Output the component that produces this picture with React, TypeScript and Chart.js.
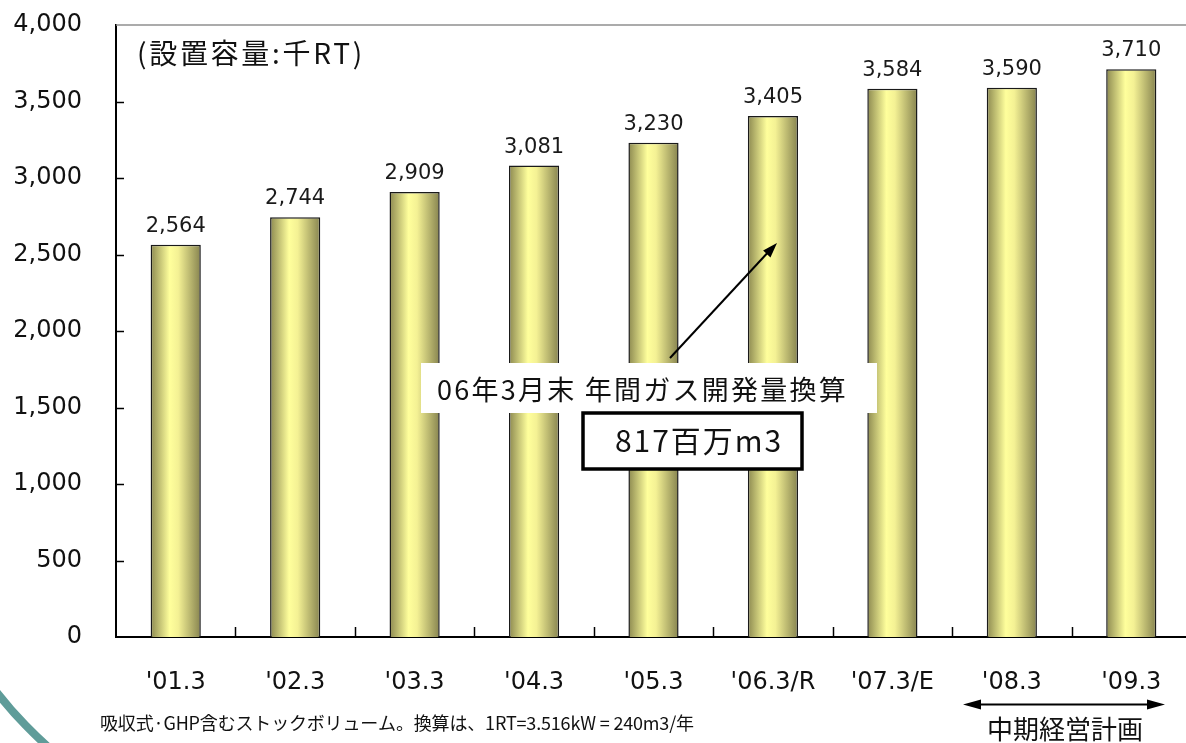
import React, { useEffect, useRef } from "react";
import { Chart, registerables } from "chart.js";

Chart.register(...registerables);

const categories = ["'01.3", "'02.3", "'03.3", "'04.3", "'05.3", "'06.3/R", "'07.3/E", "'08.3", "'09.3"];
const capacity = [2564, 2744, 2909, 3081, 3230, 3405, 3584, 3590, 3710];
const yMin = 0;
const yMax = 4000;
const yStep = 500;

const unitLabel = "(設置容量:千RT)";
const noteLine1 = "06年3月末 年間ガス開発量換算";
const noteLine2 = "817百万m3";
const footNote = "吸収式·GHP含むストックボリューム。換算は、1RT=3.516kW = 240m3/年";
const planLabel = "中期経営計画";

const NUM_FONT = '"DejaVu Sans", sans-serif';
const JP_FONT = '"Noto Sans CJK JP", "Noto Sans", sans-serif';

const W = 1191;
const H = 743;
const BAR_PCT = 0.42;

function fitText(ctx: CanvasRenderingContext2D, text: string, x: number, y: number, target: number) {
  (ctx as any).letterSpacing = "0px";
  const w = ctx.measureText(text).width;
  const n = Array.from(text).length;
  const sp = (target - w) / n;
  (ctx as any).letterSpacing = sp.toFixed(2) + "px";
  ctx.textAlign = "left";
  ctx.fillText(text, x, y);
  (ctx as any).letterSpacing = "0px";
}

function arrowHead(ctx: CanvasRenderingContext2D, x1: number, y1: number, x2: number, y2: number, len: number, half: number) {
  const a = Math.atan2(y2 - y1, x2 - x1);
  const bx = x2 - len * Math.cos(a);
  const by = y2 - len * Math.sin(a);
  ctx.beginPath();
  ctx.moveTo(x2, y2);
  ctx.lineTo(bx + half * Math.sin(a), by - half * Math.cos(a));
  ctx.lineTo(bx - half * Math.sin(a), by + half * Math.cos(a));
  ctx.closePath();
  ctx.fill();
}

const decorPlugin = {
  id: "decor",
  afterDatasetsDraw(chart: any) {
    const ctx: CanvasRenderingContext2D = chart.ctx;
    const area = chart.chartArea;
    const xs = chart.scales.x;
    const ys = chart.scales.y;
    ctx.save();

    // top frame line
    ctx.strokeStyle = "#8f8f8f";
    ctx.lineWidth = 1.5;
    ctx.beginPath();
    ctx.moveTo(area.left, area.top);
    ctx.lineTo(area.right, area.top);
    ctx.stroke();

    // inside y ticks
    ctx.strokeStyle = "#000";
    ctx.lineWidth = 1.5;
    for (let v = yMin + yStep; v < yMax; v += yStep) {
      const py = Math.round(ys.getPixelForValue(v)) + 0.5;
      ctx.beginPath();
      ctx.moveTo(area.left, py);
      ctx.lineTo(area.left + 8, py);
      ctx.stroke();
    }
    // inside x ticks (category boundaries)
    for (let i = 1; i < categories.length; i++) {
      const px = Math.round((xs.getPixelForValue(i - 1) + xs.getPixelForValue(i)) / 2) + 0.5;
      ctx.beginPath();
      ctx.moveTo(px, area.bottom);
      ctx.lineTo(px, area.bottom - 10);
      ctx.stroke();
    }

    // value labels
    const meta = chart.getDatasetMeta(0);
    ctx.fillStyle = "#1a1a1a";
    ctx.font = `21px ${NUM_FONT}`;
    ctx.textAlign = "center";
    ctx.textBaseline = "alphabetic";
    meta.data.forEach((el: any, i: number) => {
      ctx.fillText(capacity[i].toLocaleString("en-US"), el.x, el.y - 13);
    });

    // unit label
    ctx.fillStyle = "#111";
    ctx.textBaseline = "middle";
    ctx.font = `28px ${JP_FONT}`;
    fitText(ctx, unitLabel, 137, 53, 228);

    // arrow
    ctx.strokeStyle = "#000";
    ctx.fillStyle = "#000";
    ctx.lineWidth = 2;
    ctx.beginPath();
    ctx.moveTo(670, 358);
    ctx.lineTo(772, 248);
    ctx.stroke();
    arrowHead(ctx, 670, 358, 777, 243, 15, 5);

    // note box 1
    ctx.fillStyle = "#fff";
    ctx.fillRect(421, 363, 456, 50);
    ctx.fillStyle = "#111";
    ctx.font = `27px ${JP_FONT}`;
    ctx.textBaseline = "middle";
    fitText(ctx, noteLine1, 437, 390, 411);

    // note box 2
    ctx.fillStyle = "#fff";
    ctx.fillRect(583, 413, 219, 56);
    ctx.strokeStyle = "#000";
    ctx.lineWidth = 3.5;
    ctx.strokeRect(583, 413, 219, 56);
    ctx.fillStyle = "#111";
    ctx.font = `30px ${JP_FONT}`;
    fitText(ctx, noteLine2, 615, 441, 168);

    // footnote
    ctx.font = `18px ${JP_FONT}`;
    fitText(ctx, footNote, 100, 723, 594);

    // plan arrow
    ctx.strokeStyle = "#000";
    ctx.fillStyle = "#000";
    ctx.lineWidth = 2;
    ctx.beginPath();
    ctx.moveTo(975, 704.5);
    ctx.lineTo(1153, 704.5);
    ctx.stroke();
    arrowHead(ctx, 1100, 704.5, 1165, 704.5, 18, 5);
    arrowHead(ctx, 1000, 704.5, 963, 704.5, 18, 5);

    ctx.fillStyle = "#111";
    ctx.font = `26px ${JP_FONT}`;
    ctx.textBaseline = "middle";
    fitText(ctx, planLabel, 987, 729, 156);

    // decorative teal arc
    ctx.strokeStyle = "#5f9c99";
    ctx.lineWidth = 8;
    ctx.beginPath();
    ctx.arc(320, 440, 410, Math.PI * 0.64, Math.PI * 0.87);
    ctx.stroke();

    ctx.restore();
  },
};

function barGradient(context: any) {
  const chart = context.chart;
  const area = chart.chartArea;
  if (!area) return "#f0ee90";
  const xs = chart.scales.x;
  const idx = context.dataIndex ?? 0;
  const cx = xs.getPixelForValue(idx);
  const cw = (area.right - area.left) / categories.length;
  const bw = cw * BAR_PCT;
  const g = chart.ctx.createLinearGradient(cx - bw / 2, 0, cx + bw / 2, 0);
  g.addColorStop(0, "#8c8950");
  g.addColorStop(0.38, "#ffff9c");
  g.addColorStop(0.55, "#f4f194");
  g.addColorStop(1, "#86834f");
  return g;
}

export default function App() {
  const ref = useRef<HTMLCanvasElement | null>(null);
  useEffect(() => {
    if (!ref.current) return;
    const chart = new Chart(ref.current, {
      type: "bar",
      data: {
        labels: categories,
        datasets: [
          {
            data: capacity,
            backgroundColor: barGradient,
            borderColor: "#1a1a1a",
            borderWidth: 1.5,
            barPercentage: BAR_PCT,
            categoryPercentage: 1,
          },
        ],
      },
      options: {
        responsive: false,
        animation: false,
        devicePixelRatio: 1,
        layout: { padding: { top: 25, left: 0, right: 0, bottom: 0 } },
        plugins: { legend: { display: false }, tooltip: { enabled: false } },
        scales: {
          x: {
            grid: { display: false, drawTicks: false },
            border: { display: true, color: "#000", width: 2 },
            ticks: { color: "#111", font: { family: NUM_FONT, size: 24 }, padding: 31, maxRotation: 0, autoSkip: false },
            afterFit: (s: any) => {
              s.height = 106;
              s.paddingLeft = 0;
              s.paddingRight = 0;
            },
          },
          y: {
            min: yMin,
            max: yMax,
            grid: { display: false, drawTicks: false },
            border: { display: true, color: "#000", width: 2 },
            ticks: {
              stepSize: yStep,
              color: "#111",
              font: { family: NUM_FONT, size: 24 },
              padding: 34,
              callback: (v: any) => Number(v).toLocaleString("en-US"),
            },
            afterFit: (s: any) => {
              s.width = 116;
              s.paddingTop = 0;
              s.paddingBottom = 0;
            },
          },
        },
      },
      plugins: [decorPlugin],
    });
    return () => chart.destroy();
  }, []);
  return (
    <div style={{ position: "absolute", left: 0, top: 0, width: 1186, height: 743, overflow: "hidden", background: "#fff" }}>
      <canvas ref={ref} width={W} height={H} style={{ display: "block", width: W, height: H }} />
    </div>
  );
}
